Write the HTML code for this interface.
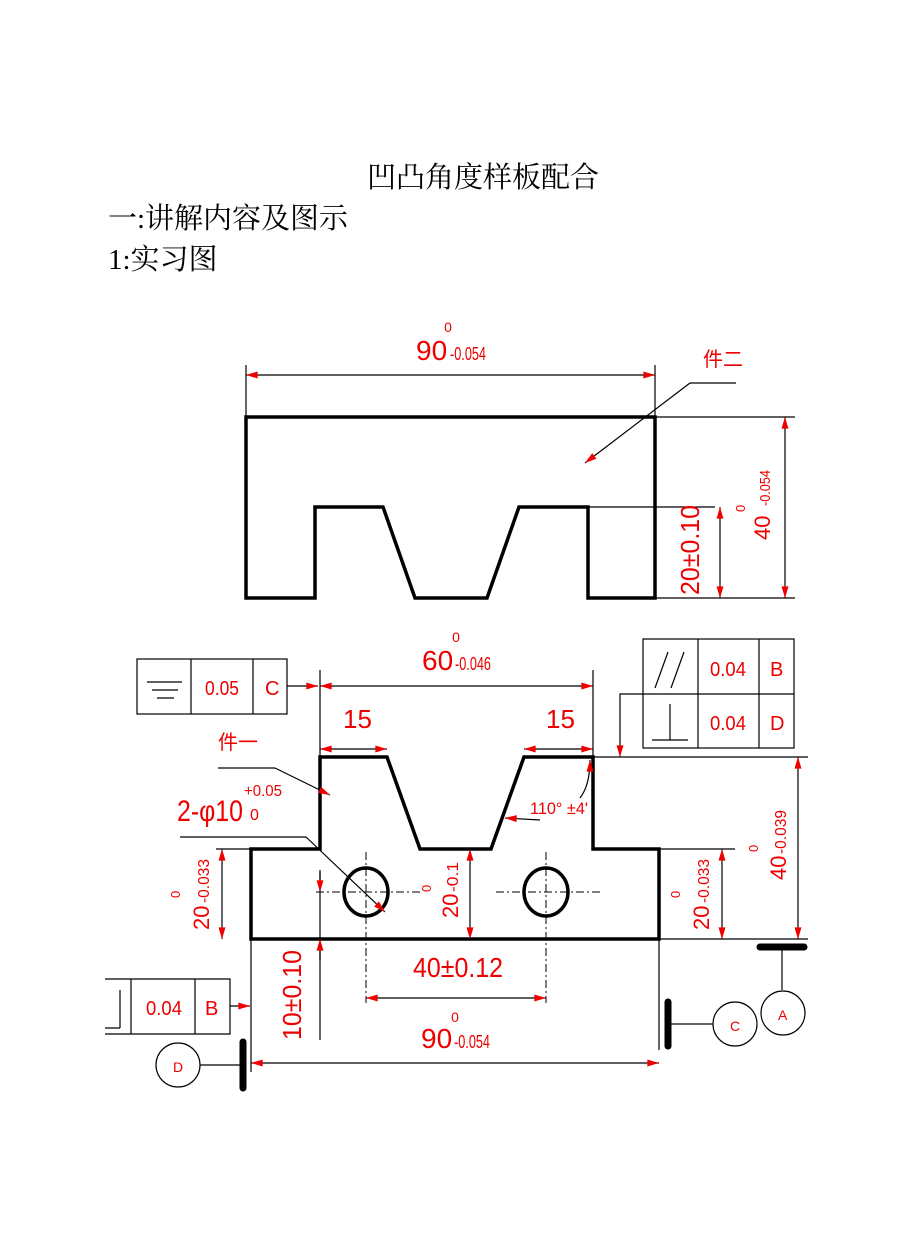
<!DOCTYPE html>
<html><head><meta charset="utf-8"><style>
html,body{margin:0;padding:0;background:#fff;}
svg{display:block}
.t{font-family:"Liberation Serif","Noto Serif CJK SC",serif;fill:#000}
.r{font-family:"Liberation Sans Narrow","Liberation Sans","Noto Sans CJK SC",sans-serif;fill:#e00}
</style></head><body>
<svg width="920" height="1246" viewBox="0 0 920 1246" xmlns="http://www.w3.org/2000/svg">
<defs>
<marker id="a" viewBox="0 0 10 6" refX="10" refY="3" markerWidth="20" markerHeight="7" markerUnits="userSpaceOnUse" orient="auto-start-reverse"><path d="M0,0L10,3L0,6z" fill="#e00"/></marker>
</defs>
<text class="t" x="483" y="187" font-size="29" text-anchor="middle">凹凸角度样板配合</text>
<text class="t" x="108" y="228" font-size="29">一:讲解内容及图示</text>
<text class="t" x="108" y="269" font-size="29">1:实习图</text>

<g fill="none" stroke="#000">
<path d="M246,417H655V598H588V507H519L487,598H415L383,507H315V598H246Z" stroke-width="3.5"/>
<g stroke-width="1.2">
<path d="M246,365V417M655,365V417M655,417H795M655,598H795M588,507H715"/>
<path d="M736,383H690"/>
</g>
<line x1="246" y1="375" x2="655" y2="375" stroke-width="1.2" marker-start="url(#a)" marker-end="url(#a)"/>
<line x1="785" y1="417" x2="785" y2="598" stroke-width="1.2" marker-start="url(#a)" marker-end="url(#a)"/>
<line x1="720" y1="507" x2="720" y2="598" stroke-width="1.2" marker-start="url(#a)" marker-end="url(#a)"/>
<line x1="690" y1="383" x2="585" y2="463" stroke-width="1.2" marker-end="url(#a)"/>

<path d="M251,849H320V757H387L420,849H491L524,757H593V849H659V939H251Z" stroke-width="3.5"/>
<ellipse cx="366" cy="892" rx="22" ry="24" stroke-width="3.5"/>
<ellipse cx="546" cy="892" rx="22" ry="24" stroke-width="3.5"/>
<g stroke-width="1" stroke-dasharray="8,3,2,3">
<path d="M316,892H420M366,852V1003M496,892H600M546,852V1003"/>
</g>
<g stroke-width="1.2">
<path d="M320,670V757M593,670V757M593,757H808M216,849H251M659,849H735M251,939H808M251,939V1072M659,939V1050"/>
<path d="M320,870V1040"/>
<path d="M218,768H275M180,837H306"/>
<rect x="137" y="659" width="150" height="55"/>
<path d="M191,659V714M253,659V714"/>
<rect x="643" y="639" width="151" height="109"/>
<path d="M643,694H794M698,639V748M759,639V748"/>
<path d="M643,694H620V740"/>
<path d="M105,979H230V1034H105M131,979V1034M195,979V1034"/>
<path d="M782,947V990M668,1024H713M200,1065H243"/>
<circle cx="783" cy="1013" r="22"/><circle cx="735" cy="1024" r="22"/><circle cx="178" cy="1065" r="22"/>
<path d="M147,682H182M152,690H178M157,698H174"/>
<path d="M655,688L668,652M671,688L684,652M652,740H688M670,740V704"/>
<path d="M105,1028H120M120,1028V990"/>
</g>
<g stroke-width="1.2">
<line x1="320" y1="686" x2="593" y2="686" marker-start="url(#a)" marker-end="url(#a)"/>
<line x1="320" y1="749" x2="387" y2="749" marker-start="url(#a)" marker-end="url(#a)"/>
<line x1="524" y1="749" x2="593" y2="749" marker-start="url(#a)" marker-end="url(#a)"/>
<line x1="287" y1="686" x2="318" y2="686" marker-end="url(#a)"/>
<line x1="620" y1="740" x2="620" y2="757" marker-end="url(#a)"/>
<line x1="798" y1="757" x2="798" y2="939" marker-start="url(#a)" marker-end="url(#a)"/>
<line x1="222" y1="849" x2="222" y2="939" marker-start="url(#a)" marker-end="url(#a)"/>
<line x1="722" y1="849" x2="722" y2="939" marker-start="url(#a)" marker-end="url(#a)"/>
<line x1="470" y1="849" x2="470" y2="939" marker-start="url(#a)" marker-end="url(#a)"/>
<line x1="320" y1="872" x2="320" y2="892" marker-end="url(#a)"/>
<line x1="320" y1="960" x2="320" y2="939" marker-end="url(#a)"/>
<line x1="366" y1="998" x2="546" y2="998" marker-start="url(#a)" marker-end="url(#a)"/>
<line x1="251" y1="1063" x2="659" y2="1063" marker-start="url(#a)" marker-end="url(#a)"/>
<line x1="230" y1="1006" x2="250" y2="1006" marker-end="url(#a)"/>
<line x1="275" y1="768" x2="330" y2="795" marker-end="url(#a)"/>
<line x1="306" y1="837" x2="385" y2="912" marker-end="url(#a)"/>
<line x1="540" y1="820" x2="505" y2="818" marker-end="url(#a)"/>
<path d="M580,798Q590,785 590,760" marker-end="url(#a)"/>
</g>
<g stroke-width="7" stroke-linecap="round">
<path d="M760,947H804M668,1002V1046M243,1042V1088"/>
</g>
</g>

<g class="r">
<text x="448" y="332" font-size="14" text-anchor="middle">0</text>
<text x="416" y="360" font-size="28">90</text>
<text x="450" y="360" font-size="18" textLength="36" lengthAdjust="spacingAndGlyphs">-0.054</text>
<text x="703" y="366" font-size="20">件二</text>
<text transform="translate(770,540) rotate(-90)" font-size="22">40</text>
<text transform="translate(770,506) rotate(-90)" font-size="15" textLength="36" lengthAdjust="spacingAndGlyphs">-0.054</text>
<text transform="translate(745,512) rotate(-90)" font-size="13">0</text>
<text transform="translate(699,595) rotate(-90)" font-size="26" textLength="90" lengthAdjust="spacingAndGlyphs">20±0.10</text>

<text x="456" y="642" font-size="14" text-anchor="middle">0</text>
<text x="422" y="670" font-size="28">60</text>
<text x="455" y="670" font-size="18" textLength="36" lengthAdjust="spacingAndGlyphs">-0.046</text>
<text x="343" y="728" font-size="26">15</text>
<text x="546" y="728" font-size="26">15</text>
<text x="205" y="695" font-size="20" textLength="34" lengthAdjust="spacingAndGlyphs">0.05</text>
<text x="265" y="695" font-size="20">C</text>
<text x="710" y="676" font-size="20" textLength="36" lengthAdjust="spacingAndGlyphs">0.04</text>
<text x="770" y="676" font-size="20">B</text>
<text x="710" y="730" font-size="20" textLength="36" lengthAdjust="spacingAndGlyphs">0.04</text>
<text x="770" y="730" font-size="20">D</text>
<text x="218" y="749" font-size="20">件一</text>
<text x="244" y="796" font-size="16" textLength="38" lengthAdjust="spacingAndGlyphs">+0.05</text>
<text x="250" y="820" font-size="16">0</text>
<text x="177" y="821" font-size="30" textLength="66" lengthAdjust="spacingAndGlyphs">2-φ10</text>
<text x="530" y="814" font-size="17" textLength="58" lengthAdjust="spacingAndGlyphs">110° ±4'</text>
<text transform="translate(209,930) rotate(-90)" font-size="22">20</text>
<text transform="translate(209,903) rotate(-90)" font-size="16" textLength="44" lengthAdjust="spacingAndGlyphs">-0.033</text>
<text transform="translate(180,898) rotate(-90)" font-size="13">0</text>
<text transform="translate(709,930) rotate(-90)" font-size="22">20</text>
<text transform="translate(709,903) rotate(-90)" font-size="16" textLength="44" lengthAdjust="spacingAndGlyphs">-0.033</text>
<text transform="translate(680,898) rotate(-90)" font-size="13">0</text>
<text transform="translate(458,918) rotate(-90)" font-size="22">20</text>
<text transform="translate(458,892) rotate(-90)" font-size="16" textLength="30" lengthAdjust="spacingAndGlyphs">-0.1</text>
<text transform="translate(431,892) rotate(-90)" font-size="13">0</text>
<text transform="translate(786,880) rotate(-90)" font-size="22">40</text>
<text transform="translate(786,854) rotate(-90)" font-size="16" textLength="44" lengthAdjust="spacingAndGlyphs">-0.039</text>
<text transform="translate(758,852) rotate(-90)" font-size="13">0</text>
<text transform="translate(301,1040) rotate(-90)" font-size="26" textLength="90" lengthAdjust="spacingAndGlyphs">10±0.10</text>
<text x="413" y="977" font-size="28" textLength="90" lengthAdjust="spacingAndGlyphs">40±0.12</text>
<text x="455" y="1022" font-size="14" text-anchor="middle">0</text>
<text x="421" y="1048" font-size="28">90</text>
<text x="454" y="1048" font-size="18" textLength="36" lengthAdjust="spacingAndGlyphs">-0.054</text>
<text x="146" y="1015" font-size="20" textLength="36" lengthAdjust="spacingAndGlyphs">0.04</text>
<text x="205" y="1015" font-size="20">B</text>
<text x="778" y="1020" font-size="14">A</text>
<text x="730" y="1031" font-size="14">C</text>
<text x="173" y="1072" font-size="14">D</text>
</g>
</svg>
</body></html>
